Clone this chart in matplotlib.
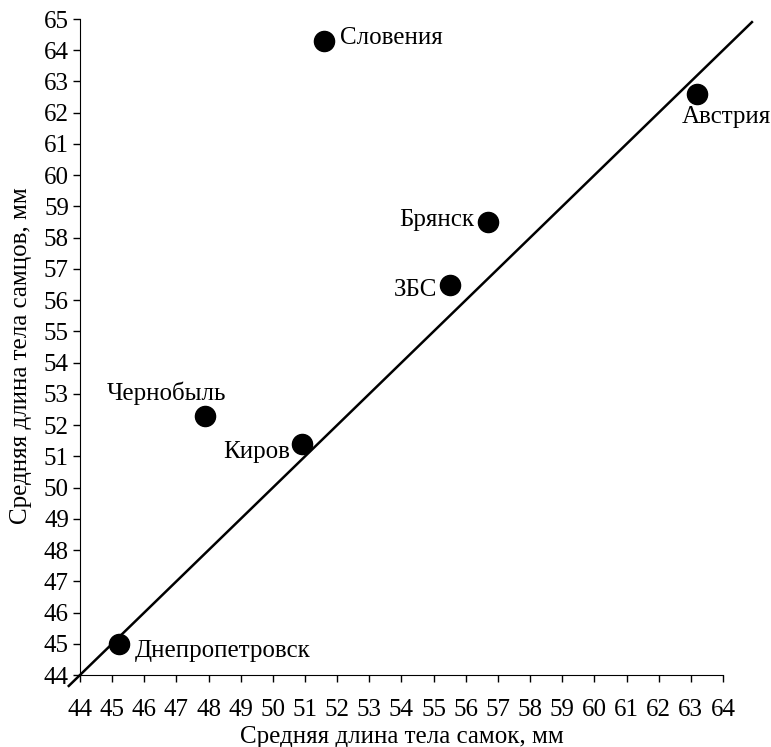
import matplotlib.pyplot as plt

plt.rcParams['font.family'] = ['Liberation Serif', 'DejaVu Serif']

# средняя длина тела самок / самцов, мм
sites = ["Словения", "Австрия", "Брянск", "ЗБС", "Чернобыль", "Киров", "Днепропетровск"]
females = [51.6, 63.2, 56.7, 55.5, 47.9, 50.9, 45.2]
males = [64.3, 62.6, 58.5, 56.5, 52.3, 51.4, 45.0]

# label offsets in pixels and alignment
offsets = [(16, 3), (29, -23), (-14, 2), (-13, -5), (-39, 22), (-12, -8), (16, -7)]
aligns = ["left", "center", "right", "right", "center", "right", "left"]

fig = plt.figure(figsize=(7.71, 7.47), dpi=100)
ax = fig.add_axes([80 / 771, 1 - 675 / 747, 643 / 771, 656 / 747])

ax.plot([43.65, 64.9], [43.65, 64.9], color="black", lw=1.8, clip_on=False, zorder=2)
ax.plot(females, males, "o", color="black", ms=14.5, clip_on=False, zorder=3)

for name, x, y, off, ha in zip(sites, females, males, offsets, aligns):
    ax.annotate(name, (x, y), xytext=off, textcoords="offset pixels",
                ha=ha, va="center", fontsize=18)

ax.set_xlim(44, 64)
ax.set_ylim(44, 65)
ax.set_xticks(range(44, 65))
ax.set_yticks(range(44, 66))
ax.tick_params(direction="out", length=5, width=1, labelsize=18)
ax.tick_params(axis="x", pad=12)
ax.tick_params(axis="y", pad=3)
ax.spines["top"].set_visible(False)
ax.spines["right"].set_visible(False)
ax.set_xlabel("Средняя длина тела самок, мм", fontsize=18, labelpad=4)
ax.set_ylabel("Средняя длина тела самцов, мм", fontsize=18)
ax.yaxis.set_label_coords(-0.075, 0.487)

fig.savefig("out.png", dpi=100)
